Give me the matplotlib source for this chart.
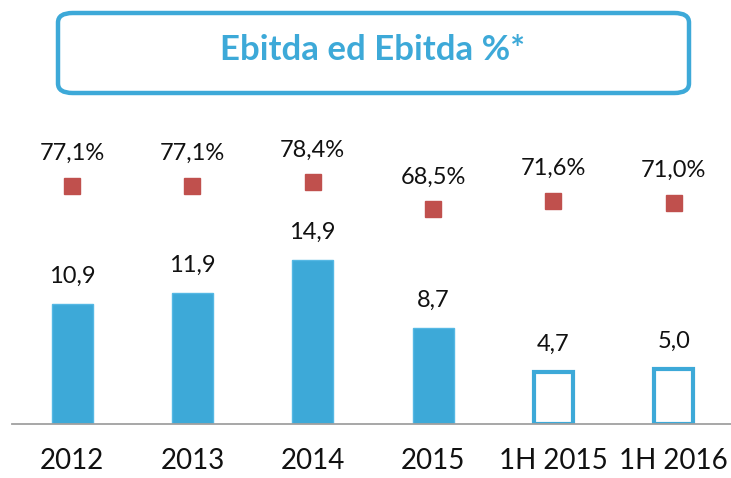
import matplotlib.pyplot as plt
from matplotlib.patches import FancyBboxPatch

categories = ["2012", "2013", "2014", "2015", "1H 2015", "1H 2016"]
ebitda = [10.9, 11.9, 14.9, 8.7, 4.7, 5.0]
ebitda_pct = [77.1, 77.1, 78.4, 68.5, 71.6, 71.0]
filled = [True, True, True, True, False, False]

blue = "#3DA9D8"
red = "#C0504D"
plt.rcParams['font.family'] = ['Lato', 'DejaVu Sans']

W, H = 731, 478
fig = plt.figure(figsize=(W / 100, H / 100), dpi=100)

# plot area: baseline at y=424 px, top at 130 px
ax = fig.add_axes([12 / W, (H - 424) / H, 719 / W, 294 / H])
ax2 = ax.twinx()

x = list(range(len(categories)))
for xi, v, f in zip(x, ebitda, filled):
    if f:
        ax.bar(xi, v, width=0.34, color=blue, edgecolor="#55B8E4", linewidth=1)
    else:
        ax.bar(xi, v, width=0.32, color="white", edgecolor=blue, linewidth=3)
    ax.annotate(f"{v:.1f}".replace(".", ","), (xi, v), xytext=(0, 15.5),
                textcoords="offset points", ha="center", va="baseline",
                fontsize=17, color="#111111")

ax.set_xlim(-0.5, -0.5 + 719 / 120.3)
ax.set_ylim(0, 294 / 11.0)

ax2.plot(x, ebitda_pct, linestyle="none", marker="s", markersize=12,
         color=red)
for xi, p in zip(x, ebitda_pct):
    ax2.annotate(f"{p:.1f}%".replace(".", ","), (xi, p), xytext=(0, 18.5),
                 textcoords="offset points", ha="center", va="baseline",
                 fontsize=17, color="#111111")
px_per = 2.73
low = 77.1 - (424 - 186) / px_per
ax2.set_ylim(low, low + 294 / px_per)

for a in (ax, ax2):
    for s in a.spines.values():
        s.set_visible(False)
    a.set_yticks([])
ax.spines["bottom"].set_visible(True)
ax.spines["bottom"].set_color("#A0A0A0")
ax.spines["bottom"].set_linewidth(1.3)
ax.set_xticks(x)
ax.set_xticklabels(categories, fontsize=20, color="#111111")
ax.tick_params(axis="x", length=0, pad=17)

# title box
box = FancyBboxPatch((58 / W, (H - 93) / H), 631 / W, 80 / H,
                     boxstyle="round,pad=0,rounding_size=0.02",
                     transform=fig.transFigure, facecolor="white",
                     edgecolor=blue, linewidth=3.2)
fig.patches.append(box)
fig.text(373 / W, (H - 50) / H, "Ebitda ed Ebitda %*", ha="center",
         va="center", fontsize=25, fontweight="bold", color=blue)

fig.savefig("out.png", dpi=100)
